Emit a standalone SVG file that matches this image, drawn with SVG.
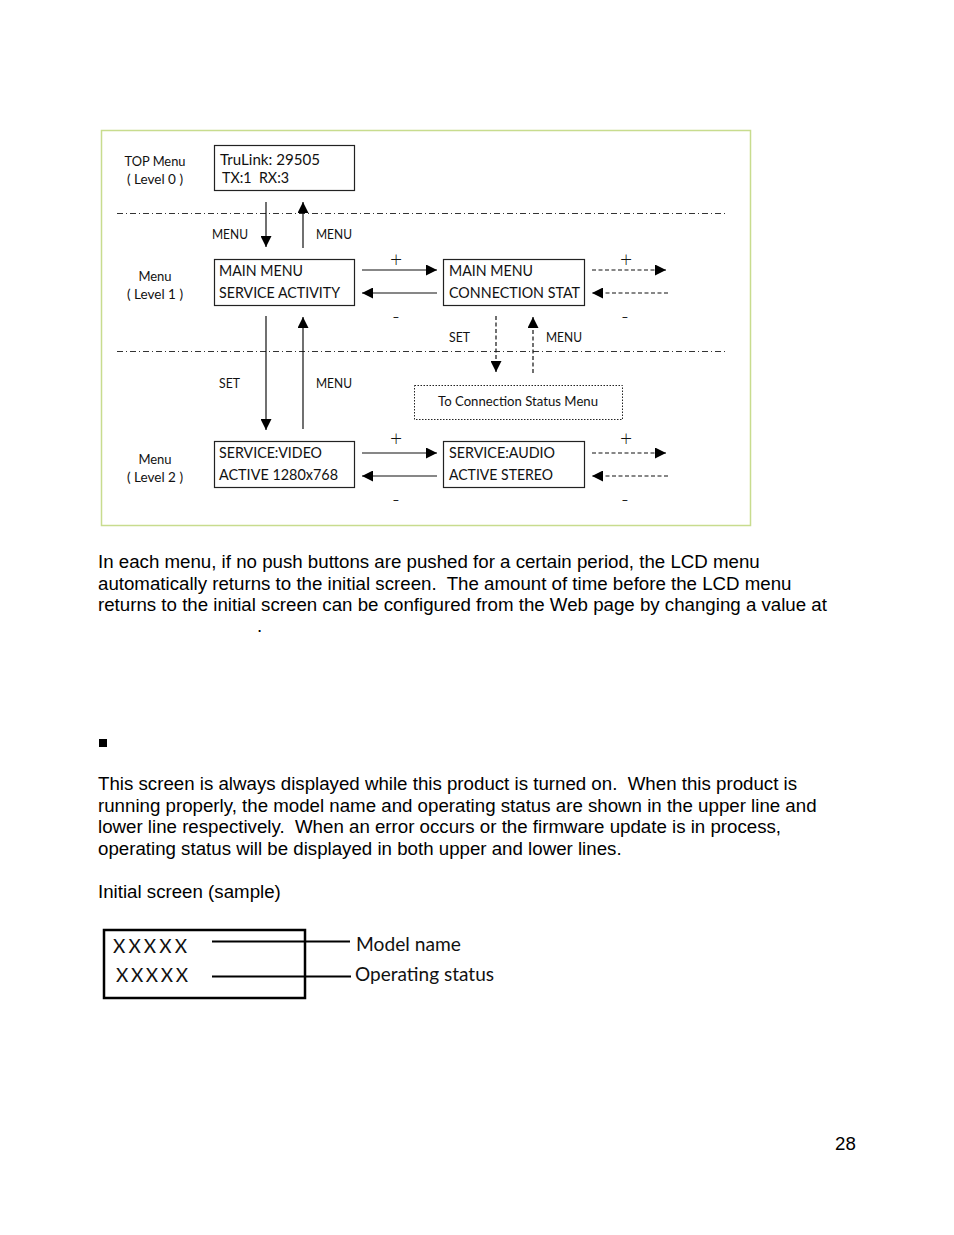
<svg xmlns="http://www.w3.org/2000/svg" width="954" height="1235" viewBox="0 0 954 1235" xml:space="preserve">
<defs>
<style>
text{white-space:pre}
.d{font-family:Lato,"Open Sans","Liberation Sans",sans-serif;fill:#111}
.bx{font-size:15px}
.lb{font-size:13px}
.sm{font-size:13px}
.pm{font-size:21px;font-weight:300}
.p{font-family:"Liberation Sans",Arial,sans-serif;font-size:18.7px;fill:#000}
.box{fill:#fff;stroke:#222;stroke-width:1.2}
.ln{stroke:#111;stroke-width:1.2;fill:none}
.dash{stroke:#111;stroke-width:1.2;fill:none;stroke-dasharray:4 2.5}
.dd{stroke:#333;stroke-width:1;fill:none;stroke-dasharray:6 3 1 3}
</style>
<marker id="ah" viewBox="0 0 10 10" refX="10" refY="5" markerWidth="11" markerHeight="11" markerUnits="userSpaceOnUse" orient="auto">
<path d="M0,0 L10,5 L0,10 z" fill="#000"/>
</marker>
</defs>
<rect width="954" height="1235" fill="#fff"/>
<rect x="101.5" y="130.5" width="649" height="395" fill="none" stroke="#c8dc8e" stroke-width="1.5"/>
<g id="separators">
<line class="dd" x1="117" y1="213.5" x2="726" y2="213.5"/>
<line class="dd" x1="117" y1="351.5" x2="726" y2="351.5"/>
</g>
<g id="level-labels">
<text class="d lb" x="155" y="166" text-anchor="middle" textLength="61" lengthAdjust="spacingAndGlyphs">TOP Menu</text>
<text class="d lb" x="155" y="184" text-anchor="middle" textLength="56" lengthAdjust="spacingAndGlyphs">( Level 0 )</text>
<text class="d lb" x="155" y="281" text-anchor="middle">Menu</text>
<text class="d lb" x="155" y="299" text-anchor="middle" textLength="56" lengthAdjust="spacingAndGlyphs">( Level 1 )</text>
<text class="d lb" x="155" y="464" text-anchor="middle">Menu</text>
<text class="d lb" x="155" y="482" text-anchor="middle" textLength="56" lengthAdjust="spacingAndGlyphs">( Level 2 )</text>
</g>
<g id="top">
<rect class="box" x="214.5" y="145.5" width="140" height="45"/>
<text class="d bx" x="220" y="165" textLength="100" lengthAdjust="spacingAndGlyphs">TruLink: 29505</text>
<text class="d bx" x="222" y="183" textLength="67" lengthAdjust="spacingAndGlyphs">TX:1  RX:3</text>
</g>
<g id="main-service">
<rect class="box" x="214.5" y="259.5" width="140" height="46"/>
<text class="d bx" x="219" y="276" textLength="84" lengthAdjust="spacingAndGlyphs">MAIN MENU</text>
<text class="d bx" x="219" y="298" textLength="121" lengthAdjust="spacingAndGlyphs">SERVICE ACTIVITY</text>
</g>
<g id="main-connection">
<rect class="box" x="443.5" y="259.5" width="141" height="46"/>
<text class="d bx" x="449" y="276" textLength="84" lengthAdjust="spacingAndGlyphs">MAIN MENU</text>
<text class="d bx" x="449" y="298" textLength="131" lengthAdjust="spacingAndGlyphs">CONNECTION STAT</text>
</g>
<g id="to-connection">
<rect x="414.5" y="385.5" width="208" height="34" fill="none" stroke="#222" stroke-width="1" stroke-dasharray="1.5 1.5"/>
<text class="d sm" x="518" y="406" text-anchor="middle" textLength="160" lengthAdjust="spacingAndGlyphs">To Connection Status Menu</text>
</g>
<g id="service-video">
<rect class="box" x="214.5" y="441.5" width="140" height="46"/>
<text class="d bx" x="219" y="458" textLength="103" lengthAdjust="spacingAndGlyphs">SERVICE:VIDEO</text>
<text class="d bx" x="219" y="480" textLength="119" lengthAdjust="spacingAndGlyphs">ACTIVE 1280x768</text>
</g>
<g id="service-audio">
<rect class="box" x="443.5" y="441.5" width="141" height="46"/>
<text class="d bx" x="449" y="458" textLength="106" lengthAdjust="spacingAndGlyphs">SERVICE:AUDIO</text>
<text class="d bx" x="449" y="480" textLength="104" lengthAdjust="spacingAndGlyphs">ACTIVE STEREO</text>
</g>
<g id="connectors">
<line class="ln" x1="266" y1="202" x2="266" y2="247" marker-end="url(#ah)"/>
<line class="ln" x1="303" y1="248" x2="303" y2="202" marker-end="url(#ah)"/>
<line class="ln" x1="362" y1="270" x2="437" y2="270" marker-end="url(#ah)"/>
<line class="ln" x1="437" y1="293" x2="362" y2="293" marker-end="url(#ah)"/>
<line class="dash" x1="592" y1="270" x2="666" y2="270" marker-end="url(#ah)"/>
<line class="dash" x1="668" y1="293" x2="592" y2="293" marker-end="url(#ah)"/>
<line class="dash" x1="496" y1="316" x2="496" y2="372" marker-end="url(#ah)"/>
<line class="dash" x1="533" y1="373" x2="533" y2="317" marker-end="url(#ah)"/>
<line class="ln" x1="266" y1="316" x2="266" y2="430" marker-end="url(#ah)"/>
<line class="ln" x1="303" y1="429" x2="303" y2="317" marker-end="url(#ah)"/>
<line class="ln" x1="362" y1="453" x2="437" y2="453" marker-end="url(#ah)"/>
<line class="ln" x1="437" y1="476" x2="362" y2="476" marker-end="url(#ah)"/>
<line class="dash" x1="592" y1="453" x2="666" y2="453" marker-end="url(#ah)"/>
<line class="dash" x1="668" y1="476" x2="592" y2="476" marker-end="url(#ah)"/>
</g>
<g id="connector-labels">
<text class="d sm" x="212" y="239" textLength="36" lengthAdjust="spacingAndGlyphs">MENU</text>
<text class="d sm" x="316" y="239" textLength="36" lengthAdjust="spacingAndGlyphs">MENU</text>
<text class="d pm" x="396" y="267" text-anchor="middle">+</text>
<text class="d pm" x="396" y="324" text-anchor="middle">-</text>
<text class="d pm" x="626" y="267" text-anchor="middle">+</text>
<text class="d pm" x="625" y="324" text-anchor="middle">-</text>
<text class="d sm" x="449" y="342" textLength="21" lengthAdjust="spacingAndGlyphs">SET</text>
<text class="d sm" x="546" y="342" textLength="36" lengthAdjust="spacingAndGlyphs">MENU</text>
<text class="d sm" x="219" y="388" textLength="21" lengthAdjust="spacingAndGlyphs">SET</text>
<text class="d sm" x="316" y="388" textLength="36" lengthAdjust="spacingAndGlyphs">MENU</text>
<text class="d pm" x="396" y="446" text-anchor="middle">+</text>
<text class="d pm" x="396" y="507" text-anchor="middle">-</text>
<text class="d pm" x="626" y="446" text-anchor="middle">+</text>
<text class="d pm" x="625" y="507" text-anchor="middle">-</text>
</g>
<g id="body-text">
<text class="p" x="98" y="568">In each menu, if no push buttons are pushed for a certain period, the LCD menu</text>
<text class="p" x="98" y="590">automatically returns to the initial screen.  The amount of time before the LCD menu</text>
<text class="p" x="98" y="611">returns to the initial screen can be configured from the Web page by changing a value at</text>
<text class="p" x="257" y="632">.</text>
<rect x="99" y="739" width="8" height="8" fill="#000"/>
<text class="p" x="98" y="790">This screen is always displayed while this product is turned on.  When this product is</text>
<text class="p" x="98" y="812">running properly, the model name and operating status are shown in the upper line and</text>
<text class="p" x="98" y="833">lower line respectively.  When an error occurs or the firmware update is in process,</text>
<text class="p" x="98" y="855">operating status will be displayed in both upper and lower lines.</text>
<text class="p" x="98" y="898">Initial screen (sample)</text>
<text class="p" x="835" y="1150">28</text>
</g>
<g id="lcd-sample">
<rect x="104" y="930" width="201" height="68" fill="none" stroke="#000" stroke-width="2.5"/>
<text class="d" x="113" y="953" font-size="19" textLength="74" lengthAdjust="spacing">XXXXX</text>
<text class="d" x="116" y="982" font-size="19" textLength="72" lengthAdjust="spacing">XXXXX</text>
<line x1="212" y1="941.5" x2="350" y2="941.5" stroke="#000" stroke-width="2"/>
<line x1="212" y1="976.5" x2="351" y2="976.5" stroke="#000" stroke-width="2"/>
<text class="d" x="356" y="951" font-size="19" textLength="105" lengthAdjust="spacingAndGlyphs">Model name</text>
<text class="d" x="355" y="981" font-size="19" textLength="139" lengthAdjust="spacingAndGlyphs">Operating status</text>
</g>
</svg>
